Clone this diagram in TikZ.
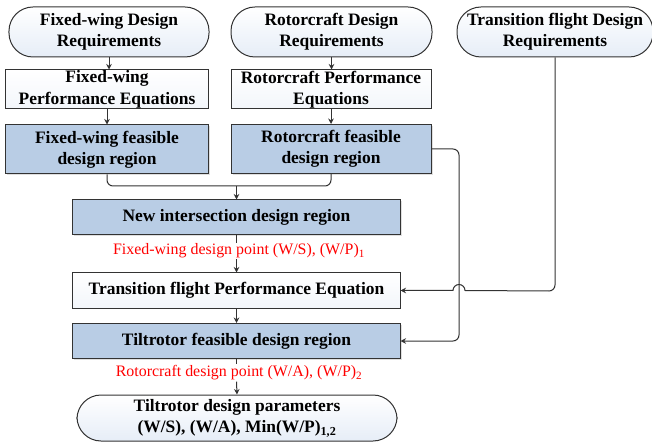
\documentclass[tikz,border=0pt]{standalone}
\usepackage{fontspec}
\setmainfont{Liberation Serif}
\usetikzlibrary{arrows.meta,shadows}
\definecolor{boxblue}{HTML}{B9CDE5}
\definecolor{termblue}{HTML}{E6EDF7}
\begin{document}
\begin{tikzpicture}[x=1bp,y=-1bp,
  base/.style={draw=black!80, line width=1bp, align=center, inner sep=0pt,
    font=\bfseries\fontsize{17.5}{21.5}\selectfont},
  term/.style={base, rounded corners=24bp, top color=white, bottom color=termblue},
  eqbox/.style={base, top color=white, bottom color=termblue!50},
  feas/.style={base, fill=boxblue, drop shadow={opacity=0.25,shadow xshift=1.5bp,shadow yshift=-1.5bp}},
  lbl/.style={font=\fontsize{16}{18}\selectfont, text=red, fill=white, inner sep=1bp},
  line/.style={draw=black!80, line width=1bp},
  arr/.style={line, -{Stealth[length=5.5bp,width=5.5bp]}}]
\useasboundingbox (0,0) rectangle (652,443);

% top row
\node[term, minimum width=200bp, minimum height=50bp] (fwreq) at (109,32) {Fixed-wing Design\\Requirements};
\node[term, minimum width=201bp, minimum height=50bp] (rcreq) at (331.5,32) {Rotorcraft Design\\Requirements};
\node[term, minimum width=196bp, minimum height=50bp] (tfreq) at (555,32) {Transition flight Design\\Requirements};

% second row
\node[eqbox, minimum width=203bp, minimum height=39bp] (fweq) at (107,89.5) {Fixed-wing\\Performance Equations};
\node[eqbox, minimum width=200bp, minimum height=39bp] (rceq) at (331,89.5) {Rotorcraft Performance\\Equations};

% third row
\node[feas, minimum width=203bp, minimum height=49bp] (fwfeas) at (107,149.5) {Fixed-wing feasible\\design region};
\node[feas, minimum width=200bp, minimum height=49bp] (rcfeas) at (331,149) {Rotorcraft feasible\\design region};

% central column
\node[feas, minimum width=327bp, minimum height=35bp] (newint) at (236.5,217.5) {New intersection design region};
\node[lbl] (l1) at (239,251) {Fixed-wing design point (W/S), (W/P)\textsubscript{1}};
\node[eqbox, minimum width=327bp, minimum height=35bp] (tfeq) at (236.5,290.5) {Transition flight Performance Equation};
\node[feas, minimum width=327bp, minimum height=35bp] (tilt) at (236.5,341) {Tiltrotor feasible design region};
\node[lbl] (l2) at (239,373) {Rotorcraft design point (W/A), (W/P)\textsubscript{2}};
\node[term, minimum width=320bp, minimum height=46bp] (out) at (237,418) {Tiltrotor design parameters\\(W/S), (W/A), Min(W/P)\textsubscript{1,2}};

% connectors
\draw[arr] (fwreq.south) -- (fwreq.south |- fweq.north);
\draw[arr] (fweq.south) -- (fweq.south |- fwfeas.north);
\draw[arr] (rcreq.south) -- (rcreq.south |- rceq.north);
\draw[arr] (rceq.south) -- (rceq.south |- rcfeas.north);
\coordinate (m) at (236.5,186);
\draw[line, rounded corners=6bp] (fwfeas.south) |- (m) -| (rcfeas.south);
\draw[arr] (m) -- (newint.north);
\draw[line] (newint.south) -- (newint.south |- l1.north);
\draw[arr] (newint.south |- l1.south) -- (tfeq.north);
\draw[arr] (tfeq.south) -- (tilt.north);
\draw[line] (tilt.south) -- (tilt.south |- l2.north);
\draw[arr] (tilt.south |- l2.south) -- (out.north);
\draw[arr, rounded corners=6bp] (rcfeas.east) -| (459,341) -- (tilt.east);
\draw[arr] (tfreq.south) -- ++(0,227.5) arc[start angle=0,end angle=90,radius=6]
  -- (465,290.5) arc[start angle=0,end angle=-180,radius=6] -- (tfeq.east);
\end{tikzpicture}
\end{document}
